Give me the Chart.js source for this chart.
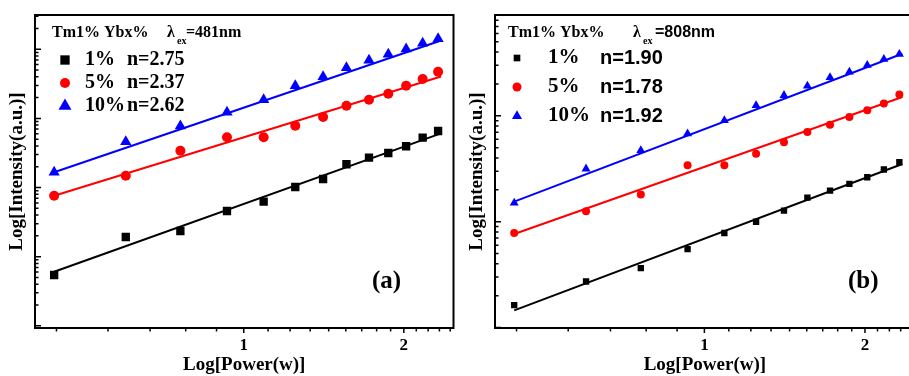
<!DOCTYPE html>
<html>
<head>
<meta charset="utf-8">
<script src="https://cdn.jsdelivr.net/npm/chart.js@4.4.0/dist/chart.umd.min.js"></script>
<style>
  html, body { margin: 0; padding: 0; background: #fff; overflow: hidden; }
  #contenedor { position: relative; width: 909px; height: 376px; overflow: hidden; }
  canvas { position: absolute; top: 0; }
</style>
</head>
<body>
<div id="contenedor">
  <canvas id="graficoA" width="460" height="376" style="left:0"></canvas>
  <canvas id="graficoB" width="460" height="376" style="left:460px"></canvas>
</div>
<script>
// potencia de bombeo (W), la misma en los dos paneles
const potencia = [0.44, 0.60, 0.76, 0.93, 1.09, 1.25, 1.41, 1.56, 1.72, 1.87, 2.02, 2.17, 2.32];
const concentraciones = ['1%', '5%', '10%'];
const colores = ['#000000', '#ff0000', '#0000ff'];
const marcadores = ['rect', 'circle', 'triangle'];

// (a) excitacion 481 nm
const int481_1 = [54.3, 192.6, 235.3, 458, 624, 1019, 1329, 2169, 2702, 3160, 3951, 5260, 6575];
const int481_5 = [762, 1483, 3412, 5330, 5330, 7840, 10480, 15270, 18630, 22760, 29720, 37150, 47340];
const int481_10 = [1662, 4603, 7763, 12250, 18630, 29720, 40090, 54080, 69180, 84530, 100900, 121900, 142200];
const pend481 = [2.75, 2.37, 2.62];
const coef481 = [580, 5333, 14270];

// (b) excitacion 808 nm
const int808_1 = [16.3, 27.2, 36.4, 55.1, 78.2, 100, 127.1, 168.8, 196.7, 227.6, 263, 311, 364.8];
const int808_5 = [78.2, 125.2, 180.3, 341.7, 341.7, 438.3, 564.6, 702, 825.6, 974, 1128, 1305, 1588];
const int808_10 = [150.4, 315.9, 471, 678, 906, 1257, 1564, 1916, 2302, 2602, 3011, 3433, 3828];
const pend808 = [1.90, 1.78, 1.92];
const coef808 = [69.2, 329.6, 748];

// tramo de potencia que cubre la recta de ajuste I = A * P^n
const rangoAjuste = [0.44, 2.35];

const SERIF = '"Liberation Serif", "Times New Roman", serif';
const SANS = '"Liberation Sans", Arial, sans-serif';

function dibujarMarcador(ctx, tipo, x, y, r, color) {
  ctx.fillStyle = color;
  ctx.beginPath();
  if (tipo === 'rect') {
    const s = r * Math.SQRT1_2;
    ctx.rect(x - s, y - s, 2 * s, 2 * s);
  } else if (tipo === 'circle') {
    ctx.arc(x, y, r, 0, 2 * Math.PI);
  } else {
    ctx.moveTo(x, y - r);
    ctx.lineTo(x + r * 0.866, y + r / 2);
    ctx.lineTo(x - r * 0.866, y + r / 2);
    ctx.closePath();
  }
  ctx.fill();
}

// marco cerrado y marcas de eje al estilo Origin (y hacia dentro, x hacia fuera)
const marcoOrigin = {
  id: 'marcoOrigin',
  afterDraw(chart) {
    const { ctx, chartArea: a, scales: { x, y } } = chart;
    ctx.save();
    ctx.strokeStyle = '#000';
    ctx.lineWidth = 1.5;
    ctx.beginPath();
    y.ticks.forEach(t => {
      const py = y.getPixelForValue(t.value);
      const largo = t.mayor ? 6 : 3.5;
      ctx.moveTo(a.left, py);
      ctx.lineTo(a.left + largo, py);
    });
    x.ticks.forEach(t => {
      const px = x.getPixelForValue(t.value);
      const largo = t.mayor ? 5 : 3.5;
      ctx.moveTo(px, a.bottom);
      ctx.lineTo(px, a.bottom + largo);
    });
    ctx.stroke();
    ctx.lineWidth = 2;
    ctx.strokeRect(a.left, a.top, a.right - a.left, a.bottom - a.top);
    ctx.restore();
  }
};

// leyenda con cabecera, simbolos y exponentes n
const leyendaPanel = {
  id: 'leyendaPanel',
  afterDraw(chart, args, o) {
    const ctx = chart.ctx;
    ctx.save();
    ctx.fillStyle = '#000';
    ctx.textBaseline = 'middle';
    ctx.textAlign = 'left';
    ctx.font = 'bold 16px ' + SERIF;
    ctx.fillText('Tm1% Ybx%', o.cabeceraX, 33);
    ctx.fillText('\u03bb', o.lambdaX, 33);
    ctx.font = 'bold 10px ' + SERIF;
    ctx.fillText('ex', o.lambdaX + 10, 41);
    ctx.font = 'bold 16px ' + o.fuenteOnda;
    ctx.fillText(o.onda, o.lambdaX + o.desplOnda, 33);

    o.filas.forEach((fy, i) => {
      dibujarMarcador(ctx, marcadores[i], o.marcaX, fy, o.radiosLeyenda[i], colores[i]);
      ctx.fillStyle = '#000';
      ctx.font = 'bold ' + o.tamConc + 'px ' + SERIF;
      ctx.fillText(concentraciones[i], o.concX, fy);
      ctx.font = 'bold 20px ' + o.fuenteN;
      ctx.fillText('n=' + o.pendientes[i].toFixed(2), o.nX, fy);
    });

    ctx.font = 'bold 25px ' + SERIF;
    ctx.fillText(o.etiqueta, o.etiquetaX, 282);
    ctx.restore();
  }
};

function crearPanel(id, series, pendientes, coefs, yMin, yMax, radios, leyenda) {
  const datasets = [];
  series.forEach((s, i) => {
    datasets.push({
      label: concentraciones[i],
      data: potencia.map((p, j) => ({ x: p, y: s[j] })),
      pointStyle: marcadores[i],
      pointRadius: radios[i],
      pointHoverRadius: radios[i],
      backgroundColor: colores[i],
      borderColor: colores[i],
      borderWidth: 0,
      showLine: false,
      order: 1
    });
  });
  series.forEach((s, i) => {
    datasets.push({
      label: 'ajuste ' + concentraciones[i],
      data: rangoAjuste.map(p => ({ x: p, y: coefs[i] * Math.pow(p, pendientes[i]) })),
      showLine: true,
      pointRadius: 0,
      borderColor: colores[i],
      borderWidth: 2,
      order: 2
    });
  });

  return new Chart(document.getElementById(id), {
    type: 'scatter',
    data: { datasets },
    plugins: [marcoOrigin, leyendaPanel],
    options: {
      responsive: false,
      animation: false,
      events: [],
      layout: { padding: { top: 15, right: 4, left: 0, bottom: 0 } },
      plugins: {
        legend: { display: false },
        tooltip: { enabled: false },
        leyendaPanel: leyenda
      },
      scales: {
        x: {
          type: 'logarithmic',
          min: 0.405,
          max: 2.48,
          bounds: 'data',
          grid: { display: false, drawTicks: false },
          border: { display: false },
          afterBuildTicks: escala => {
            const ticks = [];
            for (let k = -6; k <= 14; k++) {
              const v = 1 + k / 9;
              if (v >= escala.min && v <= escala.max) ticks.push({ value: v, mayor: k % 9 === 0 });
            }
            escala.ticks = ticks;
          },
          afterFit: escala => { escala.height = 48; },
          ticks: {
            autoSkip: false,
            maxRotation: 0,
            padding: 7,
            color: '#000',
            font: { family: SERIF, size: 17, weight: 'bold' },
            callback: v => (Math.abs(v - 1) < 1e-6 ? '1' : Math.abs(v - 2) < 1e-6 ? '2' : '')
          },
          title: {
            display: true,
            text: 'Log[Power(w)]',
            color: '#000',
            padding: { top: 0, bottom: 0 },
            font: { family: SERIF, size: 19, weight: 'bold', lineHeight: 1.2 }
          }
        },
        y: {
          type: 'logarithmic',
          min: yMin,
          max: yMax,
          bounds: 'data',
          grid: { display: false, drawTicks: false },
          border: { display: false },
          afterBuildTicks: escala => {
            const ticks = [];
            const e0 = Math.floor(Math.log10(escala.min));
            const e1 = Math.ceil(Math.log10(escala.max));
            for (let e = e0; e <= e1; e++) {
              for (let k = 1; k <= 9; k++) {
                const v = k * Math.pow(10, e);
                if (v >= escala.min && v <= escala.max) ticks.push({ value: v, mayor: k === 1 });
              }
            }
            escala.ticks = ticks;
          },
          afterFit: escala => { escala.width = 35; },
          ticks: { display: false },
          title: {
            display: true,
            text: 'Log[Intensity(a.u.)]',
            color: '#000',
            padding: { top: 6, bottom: 0 },
            font: { family: SERIF, size: 19, weight: 'bold', lineHeight: 1.2 }
          }
        }
      }
    }
  });
}

crearPanel('graficoA', [int481_1, int481_5, int481_10], pend481, coef481, 9.3, 3.13e5, [5.9, 5, 6.5], {
  cabeceraX: 52, lambdaX: 167, desplOnda: 19, onda: '=481nm', fuenteOnda: SERIF,
  marcaX: 65, filas: [60, 83, 106], radiosLeyenda: [6.6, 5, 7.5],
  concX: 85, tamConc: 20, nX: 127, fuenteN: SERIF, pendientes: pend481,
  etiqueta: '(a)', etiquetaX: 372
});

crearPanel('graficoB', [int808_1, int808_5, int808_10], pend808, coef808, 9.9, 8970, [4.5, 4, 5.2], {
  cabeceraX: 48, lambdaX: 173, desplOnda: 22, onda: '=808nm', fuenteOnda: SANS,
  marcaX: 57, filas: [58, 87, 116], radiosLeyenda: [4.7, 4.5, 5.8],
  concX: 88, tamConc: 21, nX: 140, fuenteN: SANS, pendientes: pend808,
  etiqueta: '(b)', etiquetaX: 388
});
</script>
</body>
</html>
